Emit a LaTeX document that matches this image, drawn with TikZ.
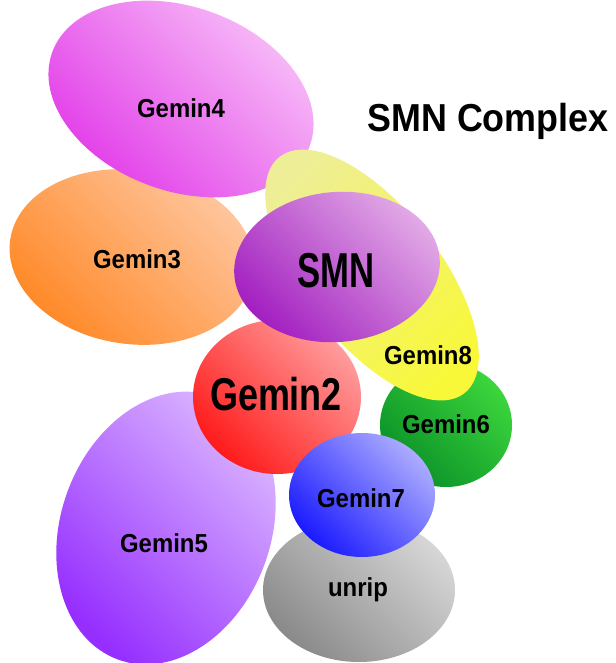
\documentclass[tikz,border=0pt]{standalone}
\usepackage{fontspec}
\setmainfont[FakeStretch=0.92]{Liberation Sans}

\definecolor{gfourlt}{HTML}{F9C6F9}
\definecolor{gfourdk}{HTML}{E23AE8}
\definecolor{gthreelt}{HTML}{FFC8A2}
\definecolor{gthreedk}{HTML}{FF8826}
\definecolor{geightlt}{HTML}{EEEE98}
\definecolor{geightdk}{HTML}{F8F838}
\definecolor{smnlt}{HTML}{E2AAE6}
\definecolor{smndk}{HTML}{A21EC0}
\definecolor{gtwolt}{HTML}{FF9C9C}
\definecolor{gtwodk}{HTML}{FF1A1A}
\definecolor{gsixlt}{HTML}{3CD63C}
\definecolor{gsixdk}{HTML}{0A9028}
\definecolor{gsevenlt}{HTML}{ACACFF}
\definecolor{gsevendk}{HTML}{1A1AFF}
\definecolor{unriplt}{HTML}{D6D6D6}
\definecolor{unripdk}{HTML}{8A8A8A}
\definecolor{gfivelt}{HTML}{DEBCFF}
\definecolor{gfivedk}{HTML}{962EFF}

\begin{document}
\begin{tikzpicture}[x=1pt,y=1pt,
  blob/.style 2 args={top color=#1,bottom color=#2,shading angle=-45},
  lbl/.style={font=\fontsize{26}{30}\selectfont\bfseries,anchor=base,inner sep=0pt}]

\useasboundingbox (0,0) rectangle (615,-663);

\shade[blob={gthreelt}{gthreedk}] (132,-257) circle [x radius=123, y radius=87, rotate=-8];
\shade[blob={gfourlt}{gfourdk}] (181,-99) circle [x radius=137, y radius=92, rotate=-20];
\shade[blob={gfivelt}{gfivedk}] (166,-528) circle [x radius=140, y radius=105, rotate=70];
\shade[blob={gsixlt}{gsixdk}] (446,-425) circle [x radius=66, y radius=62];
\shade[blob={geightlt}{geightdk},shading angle=45] (372,-275) circle [x radius=150, y radius=68, rotate=-52];
\shade[blob={gtwolt}{gtwodk}] (277,-397) circle [x radius=84, y radius=77];
\shade[blob={smnlt}{smndk}] (337,-267) circle [x radius=103, y radius=75, rotate=5];
\shade[blob={unriplt}{unripdk}] (359,-590) circle [x radius=96, y radius=72];
\shade[blob={gsevenlt}{gsevendk}] (362,-495) circle [x radius=73, y radius=62];

\node[lbl] (g4) at (181,-118) {Gemin4};
\node[lbl] (g3) at (137,-268) {Gemin3};
\node[lbl,font=\fontsize{49}{54}\selectfont\bfseries,xscale=0.77] (smn) at (336,-287) {SMN};
\node[lbl] (g8) at (428,-364) {Gemin8};
\node[lbl,font=\fontsize{46}{50}\selectfont\bfseries,xscale=0.85] (g2) at (276,-410) {Gemin2};
\node[lbl] (g6) at (446,-433) {Gemin6};
\node[lbl] (g7) at (361,-507) {Gemin7};
\node[lbl] (g5) at (164,-552) {Gemin5};
\node[lbl] (unrip) at (358,-596) {unrip};

\node[lbl,font=\fontsize{39}{44}\selectfont\bfseries] (title) at (488,-132) {SMN Complex};

\end{tikzpicture}
\end{document}
